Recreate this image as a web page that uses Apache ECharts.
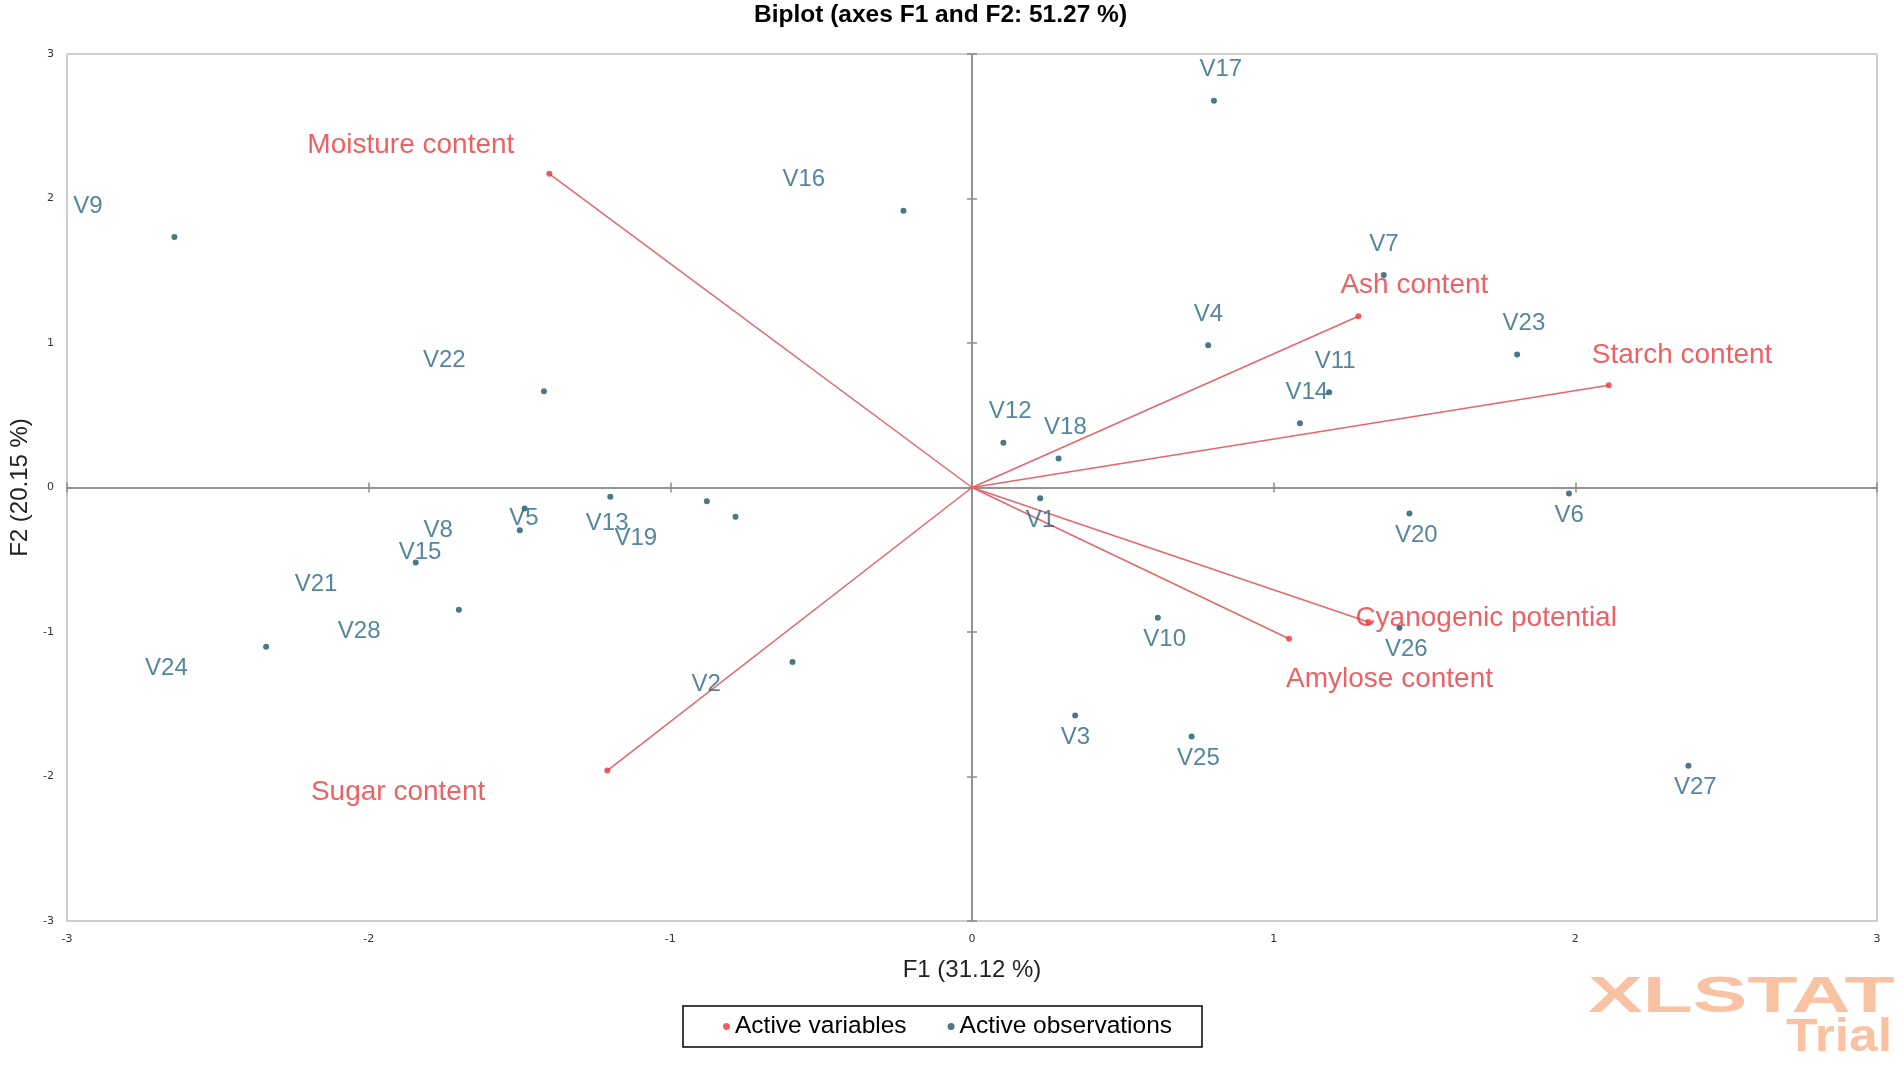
<!DOCTYPE html>
<html>
<head>
<meta charset="utf-8">
<title>Biplot (axes F1 and F2: 51.27 %)</title>
<script src="https://cdn.jsdelivr.net/npm/echarts@6/dist/echarts.min.js"></script>
<style>
html, body { margin: 0; padding: 0; background: #fff; }
#chart { width: 1901px; height: 1065px; }
</style>
</head>
<body>
<div id="chart"></div>
<script>
// observations (F1, F2 scores)
var obsNames = ['V1','V2','V3','V4','V5','V6','V7','V8','V9','V10','V11','V12','V13','V14',
	'V15','V16','V17','V18','V19','V20','V21','V22','V23','V24','V25','V26','V27','V28'];
var obsF1 = [0.226, -0.595, 0.342, 0.783, -1.199, 1.979, 1.365, -1.483, -2.644, 0.616, 1.184, 0.104, -0.879, 1.087,
	-1.499, -0.227, 0.802, 0.287, -0.784, 1.450, -1.844, -1.419, 1.807, -2.340, 0.728, 1.417, 2.375, -1.701];
var obsF2 = [-0.074, -1.208, -1.577, 0.984, -0.064, -0.041, 1.471, -0.145, 1.734, -0.901, 0.659, 0.309, -0.095, 0.445,
	-0.295, 1.916, 2.676, 0.201, -0.203, -0.180, -0.519, 0.666, 0.920, -1.102, -1.724, -0.970, -1.925, -0.846];

// active variables (arrow ends)
var varNames = ['Moisture content', 'Ash content', 'Starch content', 'Sugar content', 'Amylose content', 'Cyanogenic potential'];
var varF1 = [-1.401, 1.281, 2.111, -1.209, 1.051, 1.314];
var varF2 = [2.171, 1.185, 0.708, -1.959, -1.047, -0.931];

var axisMin = -3, axisMax = 3, axisStep = 1;

// where each label sits: t = above, b = below, tl / bl = pushed to the left
var obsLabelSide = {
	V1:'b', V2:'bl', V3:'b', V4:'t', V5:'bl', V6:'b', V7:'t', V8:'bl', V9:'tl', V10:'b',
	V11:'t', V12:'t', V13:'bl', V14:'t', V15:'bl', V16:'tl', V17:'t', V18:'t', V19:'bl', V20:'b',
	V21:'bl', V22:'tl', V23:'t', V24:'bl', V25:'b', V26:'b', V27:'b', V28:'bl'
};
// align, dx, dy (px) for the variable labels
var varLabelPos = {
	'Moisture content': ['right', -35, -29],
	'Ash content': ['left', -18, -31],
	'Starch content': ['left', -17, -30],
	'Sugar content': ['right', -122, 22],
	'Amylose content': ['left', -3, 40],
	'Cyanogenic potential': ['left', -13, -4]
};

var FONT = "'Liberation Sans', Arial, sans-serif";
var OBS_SIZE = 24, VAR_SIZE = 28;

var ctx = document.createElement('canvas').getContext('2d');
function textWidth(s, size) {
	ctx.font = size + 'px ' + FONT;
	return ctx.measureText(s).width;
}

var obsData = obsNames.map(function (n, i) {
	var side = obsLabelSide[n];
	var w = textWidth(n, OBS_SIZE);
	var dy = side.charAt(0) === 't' ? -31 : 22;
	var dx = side.length > 1 ? -w - 57 : -14.5 + w / 2;
	return { name: n, value: [obsF1[i], obsF2[i]], label: { offset: [dx, dy] } };
});

var varData = varNames.map(function (n, i) {
	var p = varLabelPos[n];
	return { name: n, value: [varF1[i], varF2[i]], label: { align: p[0], offset: [p[1], p[2]] } };
});

var varLines = varNames.map(function (n, i) {
	return { coords: [[0, 0], [varF1[i], varF2[i]]] };
});

function valueAxis(extra) {
	var a = {
		type: 'value',
		min: axisMin,
		max: axisMax,
		interval: axisStep,
		splitLine: { show: false },
		axisLabel: { show: false },
		axisTick: { show: false },
		axisLine: { show: false, onZero: false }
	};
	for (var k in extra) a[k] = extra[k];
	return a;
}

// axis that sits on the zero line, ticks going one way
function zeroAxis(position, inside) {
	return valueAxis({
		position: position,
		axisLine: { show: true, onZero: true, onZeroAxisIndex: 0, lineStyle: { color: '#8c8c8c', width: 1.5 } },
		axisTick: { show: true, inside: inside, length: 5, lineStyle: { color: '#8c8c8c', width: 1.5 } }
	});
}

var tickLabel = { show: true, fontSize: 11, color: '#333', margin: 13, fontFamily: 'DejaVu Sans' };
var nameStyle = { fontSize: 24, color: '#222', fontFamily: FONT };

var myChart = echarts.init(document.getElementById('chart'));

var option = {
	animation: false,
	backgroundColor: '#fff',
	title: {
		text: 'Biplot (axes F1 and F2: 51.27 %)',
		left: 754,
		top: 3,
		padding: 0,
		textStyle: { fontSize: 24.5, fontWeight: 'bold', color: '#000', fontFamily: FONT }
	},
	legend: {
		data: ['Active variables', 'Active observations'],
		left: 683,
		top: 1006,
		padding: [8, 30, 8, 40],
		borderColor: '#000',
		borderWidth: 1.5,
		icon: 'circle',
		itemWidth: 7,
		itemHeight: 7,
		itemGap: 41,
		textStyle: { fontSize: 24.5, color: '#000', fontFamily: FONT }
	},
	grid: {
		left: 67,
		right: 24,
		top: 54,
		bottom: 144,
		show: true,
		borderColor: '#bfbfbf',
		borderWidth: 1.5,
		outerBoundsMode: 'none'
	},
	xAxis: [
		valueAxis({
			position: 'bottom',
			axisLabel: tickLabel,
			name: 'F1 (31.12 %)',
			nameLocation: 'middle',
			nameGap: 37,
			nameTextStyle: nameStyle
		}),
		zeroAxis('bottom', false),
		zeroAxis('bottom', true)
	],
	yAxis: [
		valueAxis({
			position: 'left',
			axisLabel: tickLabel,
			name: 'F2 (20.15 %)',
			nameLocation: 'middle',
			nameGap: 30,
			nameRotate: 90,
			nameTextStyle: nameStyle
		}),
		zeroAxis('left', false),
		zeroAxis('left', true)
	],
	graphic: [
		{
			type: 'text', x: 1588, y: 998, scaleX: 1.64, silent: true,
			style: { text: 'XLSTAT', font: "bold 50px 'Liberation Sans', Arial, sans-serif", fill: '#f9c2a2', textVerticalAlign: 'middle' }
		},
		{
			type: 'text', x: 1892, y: 1038, scaleX: 1.12, silent: true,
			style: { text: 'Trial', font: "bold 46px 'Liberation Sans', Arial, sans-serif", fill: '#f9c2a2', textAlign: 'right', textVerticalAlign: 'middle' }
		}
	],
	series: [
		{
			name: 'Active variables',
			type: 'scatter',
			data: varData,
			symbolSize: 6,
			z: 4,
			itemStyle: { color: '#e8383d' },
			label: {
				show: true,
				position: 'inside',
				formatter: '{b}',
				color: '#e8383d',
				fontSize: VAR_SIZE,
				fontFamily: FONT,
				verticalAlign: 'middle',
				textBorderWidth: 0
			}
		},
		{
			name: 'Active variables',
			type: 'lines',
			coordinateSystem: 'cartesian2d',
			data: varLines,
			silent: true,
			z: 3,
			lineStyle: { color: '#e6666b', width: 1.5, opacity: 1 }
		},
		{
			name: 'Active observations',
			type: 'scatter',
			data: obsData,
			symbolSize: 6,
			z: 5,
			itemStyle: { color: '#1d5667' },
			label: {
				show: true,
				position: 'inside',
				formatter: '{b}',
				color: '#2b6882',
				fontSize: OBS_SIZE,
				fontFamily: FONT,
				align: 'center',
				verticalAlign: 'middle',
				textBorderWidth: 0
			}
		}
	]
};

myChart.setOption(option);
</script>
</body>
</html>
